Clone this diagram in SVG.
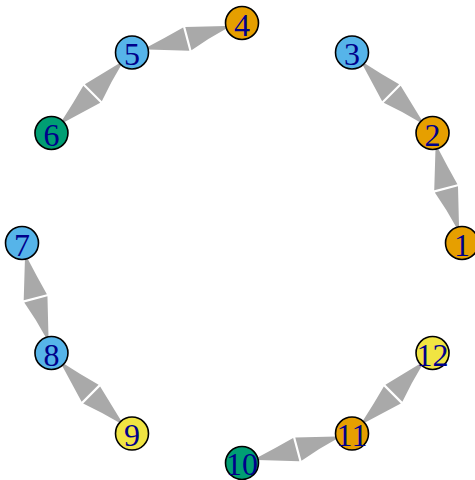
<svg xmlns="http://www.w3.org/2000/svg" xmlns:xlink="http://www.w3.org/1999/xlink" width="475" height="480" viewBox="0 0 475 480">
<defs>
<style>
.bg{fill:#ffffff}
.edge{fill:#a9a9a9;stroke:none}
.node circle{stroke:#000000;stroke-width:1.6}
.node text{font-family:"Liberation Serif","Times New Roman",serif;font-size:32px;fill:#00008b;text-anchor:middle}
.o{fill:#e69f00}
.b{fill:#56b4e9}
.g{fill:#009e73}
.y{fill:#f0e442}
</style>
<g id="dbl">
<path class="edge" d="M -41,1.2 L -1.1,13.2 L -1.1,-10.8 Q -21,-5.5 -41,-1.2 Z"/>
<path class="edge" d="M 41,-1.2 L 1.1,-10.8 L 1.1,13.2 Q 21,6 41,1.2 Z"/>
</g>
</defs>
<rect class="bg" x="0" y="0" width="475" height="480"/>
<g id="edges">
<use xlink:href="#dbl" href="#dbl" transform="translate(447.27,188) rotate(75)"/>
<use xlink:href="#dbl" href="#dbl" transform="translate(392.27,92.73) rotate(45)"/>
<use xlink:href="#dbl" href="#dbl" transform="translate(187,37.73) rotate(-15)"/>
<use xlink:href="#dbl" href="#dbl" transform="translate(91.73,92.73) rotate(-45)"/>
<use xlink:href="#dbl" href="#dbl" transform="translate(36.73,298) rotate(75)"/>
<use xlink:href="#dbl" href="#dbl" transform="translate(91.73,393.27) rotate(45)"/>
<use xlink:href="#dbl" href="#dbl" transform="translate(297,448.27) rotate(-15)"/>
<use xlink:href="#dbl" href="#dbl" transform="translate(392.27,393.27) rotate(-45)"/>
</g>
<g id="n1" class="node"><circle class="o" cx="462" cy="243" r="16.5"/><text x="462" y="255.5">1</text></g>
<g id="n2" class="node"><circle class="o" cx="432.53" cy="133" r="16.5"/><text x="432.53" y="145.5">2</text></g>
<g id="n3" class="node"><circle class="b" cx="352" cy="52.47" r="16.5"/><text x="352" y="64.97">3</text></g>
<g id="n4" class="node"><circle class="o" cx="242" cy="23" r="16.5"/><text x="242" y="35.5">4</text></g>
<g id="n5" class="node"><circle class="b" cx="132" cy="52.47" r="16.5"/><text x="132" y="64.97">5</text></g>
<g id="n6" class="node"><circle class="g" cx="51.47" cy="133" r="16.5"/><text x="51.47" y="145.5">6</text></g>
<g id="n7" class="node"><circle class="b" cx="22" cy="243" r="16.5"/><text x="22" y="255.5">7</text></g>
<g id="n8" class="node"><circle class="b" cx="51.47" cy="353" r="16.5"/><text x="51.47" y="365.5">8</text></g>
<g id="n9" class="node"><circle class="y" cx="132" cy="433.53" r="16.5"/><text x="132" y="446.03">9</text></g>
<g id="n10" class="node"><circle class="g" cx="242" cy="463" r="16.5"/><text x="242" y="475">10</text></g>
<g id="n11" class="node"><circle class="o" cx="352" cy="433.53" r="16.5"/><text x="352" y="446.03">11</text></g>
<g id="n12" class="node"><circle class="y" cx="432.53" cy="353" r="16.5"/><text x="432.53" y="365.5">12</text></g>
</svg>
